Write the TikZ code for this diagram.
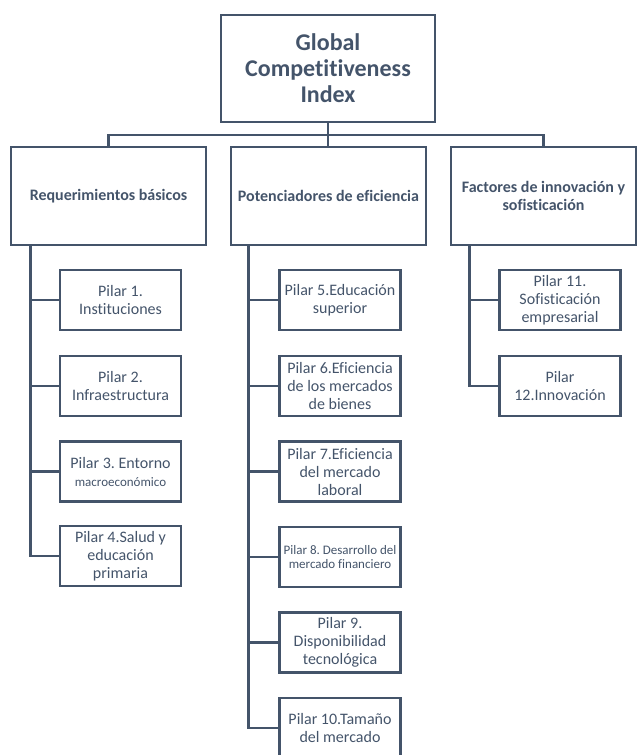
\documentclass[tikz,border=0pt]{standalone}
\usepackage{fontspec}
\setmainfont{Carlito}[Ligatures=NoCommon]
\usepackage{tikz}
\usetikzlibrary{positioning}
\definecolor{gcislate}{RGB}{68,84,106}
\frenchspacing

\begin{document}
\begin{tikzpicture}[x=1pt,y=-1pt,
  box/.style={draw=gcislate,line width=2.6pt,text=gcislate,align=center,inner sep=1pt},
  group/.style={box,minimum height=98pt,font=\fontsize{16}{18}\selectfont\bfseries},
  pilar/.style={box,minimum width=121pt,minimum height=60pt,font=\fontsize{16}{18}\selectfont},
  link/.style={draw=gcislate,line width=2.6pt}]
  \useasboundingbox (0,0) rectangle (637,755);
  % index and the three groups
  \node[box,minimum width=214pt,minimum height=107pt,font=\fontsize{24}{26}\selectfont\bfseries] (gci) at (328,68.5) {Global\\Competitiveness\\Index};
  \node[group,minimum width=195pt] (req) at (108.5,196) {Requerimientos básicos};
  \node[group,minimum width=195pt] (pot) at (328.5,196) {Potenciadores de eficiencia};
  \node[group,minimum width=185pt] (fac) at (543.5,196) {Factores de innovación y\\sofisticación};
  \coordinate (bus) at (328,135);
  \draw[link] (gci.south) -- (gci.south |- bus);
  \draw[link] (req.north) |- (fac.north |- bus) -- (fac.north);
  \draw[link] (gci.south |- bus) -- (gci.south |- pot.north);
  % pillars
  \node[pilar] (p1) at (120.5,300) {Pilar 1.\\Instituciones};
  \node[pilar] (p2) at (120.5,386) {Pilar 2.\\Infraestructura};
  \node[pilar] (p3) at (120.5,471.5) {Pilar 3. Entorno\\{\fontsize{13}{15}\selectfont macroeconómico}};
  \node[pilar] (p4) at (120.5,556) {Pilar 4.Salud y\\educación\\primaria};
  \node[pilar] (p5) at (340,300) {Pilar 5.Educación\\superior};
  \node[pilar] (p6) at (340,386) {Pilar 6.Eficiencia\\de los mercados\\de bienes};
  \node[pilar] (p7) at (340,471.5) {Pilar 7.Eficiencia\\del mercado\\laboral};
  \node[pilar,font=\fontsize{13}{14}\selectfont] (p8) at (340,557) {Pilar 8. Desarrollo del\\mercado financiero};
  \node[pilar] (p9) at (340,642.5) {Pilar 9.\\Disponibilidad\\tecnológica};
  \node[pilar] (p10) at (340,728) {Pilar 10.Tamaño\\del mercado};
  \node[pilar] (p11) at (560,300) {Pilar 11.\\Sofisticación\\empresarial};
  \node[pilar] (p12) at (560,386) {Pilar\\12.Innovación};
  % trunks and branches
  \coordinate (ta) at ([xshift=21pt]req.south west);
  \coordinate (tb) at ([xshift=19pt]pot.south west);
  \coordinate (tc) at ([xshift=20pt]fac.south west);
  \draw[link] (ta) |- (p4.west);
  \draw[link] (p1.west) -- (p1.west -| ta);\draw[link] (p2.west) -- (p2.west -| ta);\draw[link] (p3.west) -- (p3.west -| ta);
  \draw[link] (tb) |- (p10.west);
  \draw[link] (p5.west) -- (p5.west -| tb);\draw[link] (p6.west) -- (p6.west -| tb);\draw[link] (p7.west) -- (p7.west -| tb);
  \draw[link] (p8.west) -- (p8.west -| tb);\draw[link] (p9.west) -- (p9.west -| tb);
  \draw[link] (tc) |- (p12.west);
  \draw[link] (p11.west) -- (p11.west -| tc);
\end{tikzpicture}
\end{document}
